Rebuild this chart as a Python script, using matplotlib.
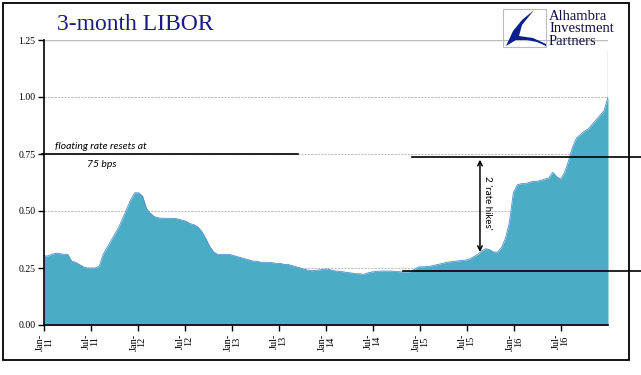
import pandas as pd
import matplotlib.pyplot as plt
import matplotlib.transforms as mtransforms
from matplotlib.patches import Rectangle, Polygon

# 3-month LIBOR, semi-monthly readings Jan 2011 - Dec 2016
libor = [
    # 2011
    0.303, 0.303, 0.310, 0.315, 0.313, 0.310, 0.310, 0.280, 0.275, 0.265, 0.255, 0.250,
    0.250, 0.250, 0.258, 0.310, 0.340, 0.370, 0.400, 0.430, 0.470, 0.510, 0.550, 0.580,
    # 2012
    0.580, 0.565, 0.510, 0.490, 0.475, 0.470, 0.468, 0.468, 0.468, 0.468, 0.465, 0.460,
    0.455, 0.445, 0.440, 0.430, 0.410, 0.380, 0.345, 0.320, 0.310, 0.310, 0.310, 0.310,
    # 2013
    0.305, 0.300, 0.295, 0.290, 0.285, 0.280, 0.280, 0.275, 0.275, 0.275, 0.273, 0.270,
    0.270, 0.265, 0.265, 0.260, 0.255, 0.250, 0.245, 0.240, 0.238, 0.240, 0.242, 0.245,
    # 2014
    0.245, 0.240, 0.237, 0.235, 0.233, 0.230, 0.228, 0.225, 0.225, 0.222, 0.228, 0.232,
    0.235, 0.236, 0.237, 0.236, 0.237, 0.235, 0.234, 0.232, 0.233, 0.234, 0.245, 0.255,
    # 2015
    0.255, 0.256, 0.258, 0.262, 0.266, 0.270, 0.275, 0.277, 0.279, 0.281, 0.283, 0.285,
    0.290, 0.300, 0.310, 0.325, 0.335, 0.330, 0.320, 0.320, 0.340, 0.380, 0.450, 0.580,
    # 2016
    0.615, 0.620, 0.620, 0.625, 0.630, 0.630, 0.635, 0.640, 0.645, 0.670, 0.650, 0.640,
    0.670, 0.720, 0.780, 0.820, 0.835, 0.850, 0.860, 0.880, 0.900, 0.920, 0.940, 1.000,
]
last_print = 1.205

tick_dates = pd.date_range("2011-01-01", "2016-07-01", freq="6MS")
tick_labels = ["Jan-\n11", "Jul-\n11", "Jan-\n12", "Jul-\n12", "Jan-\n13", "Jul-\n13",
               "Jan-\n14", "Jul-\n14", "Jan-\n15", "Jul-\n15", "Jan-\n16", "Jul-\n16"]
y_ticks = [0.0, 0.25, 0.5, 0.75, 1.0, 1.25]

reset_level = 0.75
hike_from, hike_to = 0.32, 0.725

dates = pd.date_range("2011-01-01", "2016-12-31", periods=len(libor))

fig = plt.figure(figsize=(6.41, 3.75), dpi=100)
ax = fig.add_axes([44 / 641, 1 - 325 / 375, 564 / 641, 285 / 375])

ax.fill_between(dates, 0, libor, color="#4BACC6", lw=0, zorder=2)
ax.plot(dates, libor, color="#4F8FCF", lw=0.6, zorder=3)
ax.vlines(dates[-1], 0, last_print, color="#B0B0B0", lw=1, zorder=1)

ax.set_xlim(dates[0], dates[-1])
ax.set_ylim(0, 1.25)
ax.set_yticks(y_ticks)
ax.set_yticklabels([f"{v:.2f}" for v in y_ticks], family="Liberation Serif", fontsize=7)
ax.set_xticks(tick_dates)
ax.set_xticklabels(tick_labels, rotation=90, family="Liberation Serif", fontsize=7.5,
                   linespacing=0.9, va="top", ha="center")
ax.tick_params(direction="out", length=4, width=1, colors="black", pad=2)

for v in y_ticks[1:-1]:
    ax.axhline(v, color="#C0C0C0", lw=0.8, ls=(0, (2, 1)), zorder=1)
ax.axhline(1.25, color="#BBBBBB", lw=1, zorder=1)

for s in ["top", "right"]:
    ax.spines[s].set_visible(False)
for s in ["left", "bottom"]:
    ax.spines[s].set_linewidth(1.2)
    ax.spines[s].set_zorder(5)

# annotation lines
trans = mtransforms.blended_transform_factory(ax.transAxes, ax.transData)
ax.plot([-0.004, 0.45], [reset_level, reset_level], color="black", lw=1.2,
        transform=trans, clip_on=False, zorder=6)
ax.plot([0.652, 1.06], [0.737, 0.737], color="black", lw=1.2,
        transform=trans, clip_on=False, zorder=6)
ax.plot([0.6365, 1.06], [0.237, 0.237], color="black", lw=1.2,
        transform=trans, clip_on=False, zorder=6)

ax.annotate("", xy=(0.773, hike_from), xytext=(0.773, hike_to), xycoords=trans,
            textcoords=trans,
            arrowprops=dict(arrowstyle="<->", lw=1.1, color="black",
                            shrinkA=0, shrinkB=0, mutation_scale=8), zorder=6)
ax.text(0.786, 0.535, "2 'rate hikes'", transform=trans, rotation=-90,
        ha="center", va="center", fontsize=7, family="Lato", zorder=6)

ax.text(0.02, 0.762, "floating rate resets at", transform=trans, ha="left",
        va="bottom", fontsize=7.5, family="Lato", style="italic", zorder=6)
ax.text(0.077, 0.705, "75 bps", transform=trans, ha="left",
        va="center", fontsize=7.5, family="Lato", style="italic", zorder=6)

# title
fig.text(57 / 641, 1 - 30 / 375, "3-month LIBOR", family="Liberation Serif",
         fontsize=17, color="#1B1B86", ha="left", va="baseline")

# logo
fig.patches.append(Rectangle((503 / 641, 1 - 47 / 375), 43 / 641, 38 / 375,
                             transform=fig.transFigure, fill=False,
                             edgecolor="#BBBBBB", lw=0.8))
swoosh = [(534, 10), (522, 20), (513, 31), (506, 46), (516, 40), (527, 40),
          (537, 42), (546, 46), (546, 44), (533, 38), (519, 36), (522, 25)]
fig.patches.append(Polygon([(x / 641, 1 - y / 375) for x, y in swoosh],
                           transform=fig.transFigure, closed=True,
                           facecolor="#0A1F8F", edgecolor="none"))
for i, word in enumerate(["Alhambra", "Investment", "Partners"]):
    fig.text(549 / 641, 1 - (20 + 12.5 * i) / 375, word,
             family="Liberation Serif", fontsize=10.5, color="#101040",
             ha="left", va="baseline")

# outer frame
fig.patches.append(Rectangle((3 / 641, 1 - 360 / 375), 626 / 641, 357 / 375,
                             transform=fig.transFigure, fill=False,
                             edgecolor="black", lw=1.3))

fig.savefig("out.png", dpi=100)
